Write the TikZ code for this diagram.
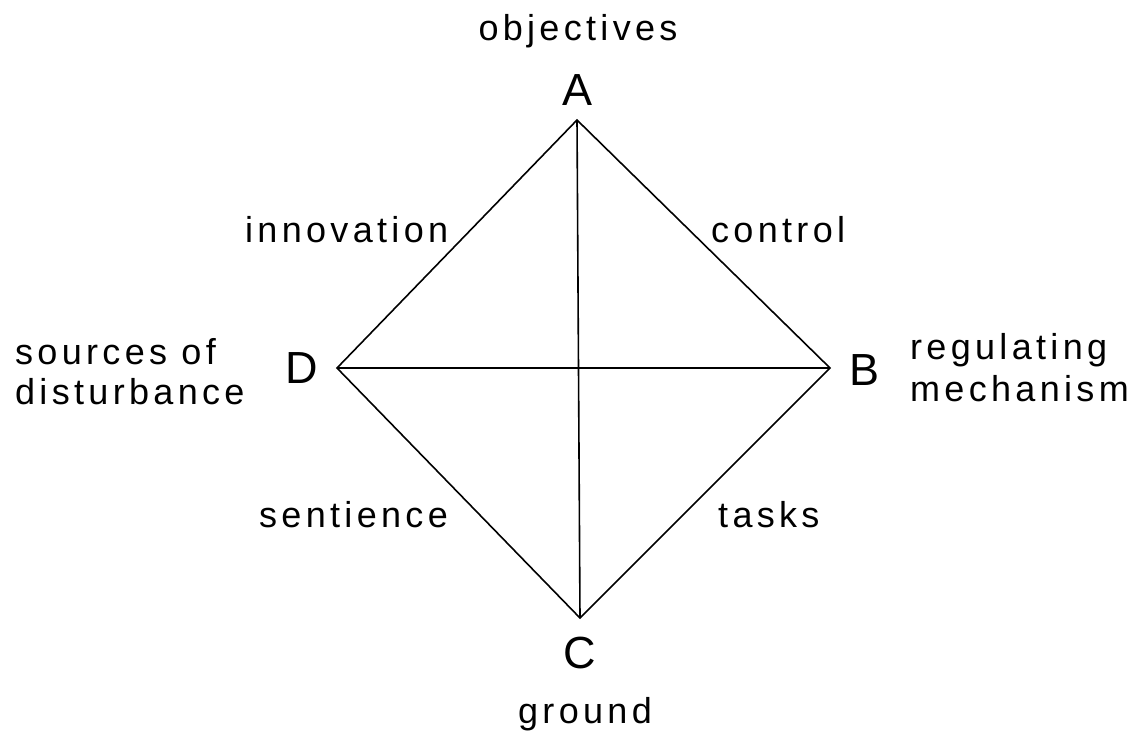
\documentclass[tikz,border=0pt]{standalone}
\usepackage{fontspec}
\setmainfont{Liberation Sans}[LetterSpace=12]
\begin{document}
\begin{tikzpicture}[x=1pt,y=-1pt,
  edge/.style={line width=1.6pt,black},
  lbl/.style={inner sep=0pt,font=\fontsize{36}{40}\selectfont},
  vlbl/.style={inner sep=0pt,anchor=base,font=\fontsize{45}{50}\selectfont}]
\useasboundingbox (0,0) rectangle (1129,734);
\coordinate (A) at (577,120);
\coordinate (B) at (830,368);
\coordinate (C) at (580,618);
\coordinate (D) at (337,368);
\draw[edge] (A) -- (B) -- (C) -- (D) -- cycle;
\draw[edge] (A) -- (C);
\draw[edge] (D) -- (B);
\node[vlbl] (la) at (577,105) {A};
\node[vlbl] (lb) at (864,385) {B};
\node[vlbl] (lc) at (580,668) {C};
\node[vlbl] (ld) at (302,383) {D};
\node[lbl,anchor=base] (obj) at (578,40) {objectives};
\node[lbl,anchor=base] (gr) at (585,723) {ground};
\node[lbl,anchor=base west] (inn) at (245,242) {innovation};
\node[lbl,anchor=base west] (ctl) at (711,242) {control};
\node[lbl,anchor=base west] (sen) at (259,527) {sentience};
\node[lbl,anchor=base west] (tsk) at (718,527) {tasks};
\node[lbl,anchor=base west] (so1) at (15,364) {sources of};
\node[lbl,anchor=base west] (so2) at (15,404) {disturbance};
\node[lbl,anchor=base west] (rm1) at (910,359) {regulating};
\node[lbl,anchor=base west] (rm2) at (910,401) {mechanism};
\end{tikzpicture}
\end{document}
